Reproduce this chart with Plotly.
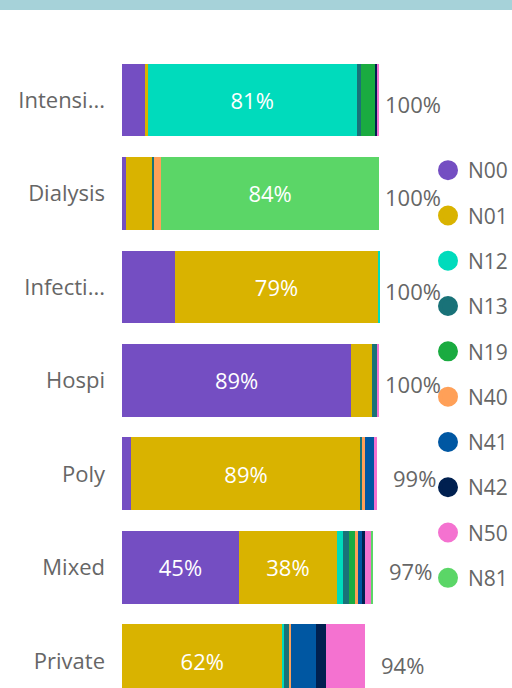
import numpy as np
import plotly.graph_objects as go

categories = ["Intensi...", "Dialysis", "Infecti...", "Hospi", "Poly", "Mixed", "Private"]

series_names = ["N00", "N01", "N12", "N13", "N19", "N40", "N41", "N42", "N50", "N81"]
N00 = [9.0, 1.4, 20.5, 88.8, 3.5, 45.3, 0.0]
N01 = [1.0, 10.3, 78.8, 8.1, 89.1, 38.0, 62.2]
N12 = [80.9, 0.3, 0.4, 0.0, 0.0, 2.3, 0.4]
N13 = [1.6, 0.3, 0.0, 1.8, 0.6, 2.3, 2.4]
N19 = [5.9, 0.0, 0.0, 0.0, 0.0, 2.3, 0.0]
N40 = [0.0, 2.9, 0.0, 0.0, 0.8, 1.2, 0.5]
N41 = [0.0, 0.0, 0.0, 0.0, 3.6, 1.6, 9.8]
N42 = [0.4, 0.0, 0.0, 0.0, 0.0, 1.2, 3.9]
N50 = [0.9, 0.0, 0.0, 1.0, 1.4, 2.3, 14.8]
N81 = [0.0, 84.4, 0.0, 0.0, 0.0, 0.8, 0.0]
series_values = [N00, N01, N12, N13, N19, N40, N41, N42, N50, N81]

colors = ["#744EC2", "#D9B300", "#00DBBC", "#197278", "#1AAB40",
          "#FFA058", "#0057A2", "#002050", "#F472D0", "#5BD667"]

FONT = "Segoe UI, Open Sans, sans-serif"
GREY = "#666666"
LABEL_MIN = 30  # only label segments that are large enough

fig = go.Figure()
for name, vals, col in zip(series_names, series_values, colors):
    txt = [f"{v:.0f}%" if v >= LABEL_MIN else "" for v in vals]
    fig.add_trace(go.Bar(
        name=name, y=categories, x=vals, orientation="h",
        marker=dict(color=col, line=dict(width=0)),
        text=txt, textposition="inside", insidetextanchor="middle",
        textfont=dict(color="white", size=22, family=FONT),
        showlegend=False, hoverinfo="skip",
    ))
    # circle legend entries
    fig.add_trace(go.Scatter(
        name=name, x=[None], y=[None], mode="markers",
        marker=dict(symbol="circle", size=16, color=col, line=dict(color=col, width=4)),
        legendgroup=name, showlegend=True, hoverinfo="skip",
    ))

totals = np.sum(np.array(series_values), axis=0)

# plot geometry (pixels) for label clamping
L, R, W, H, T = 122, 132, 512, 688, 40
plot_w = W - L - R
plot_h = H - T
limit_px = 440
for cat, tot in zip(categories, totals):
    label = f"{round(tot)}%"
    end_px = L + tot / 100 * plot_w
    w = 14.2 * len(label)
    shift = min(14, limit_px - end_px - w)
    fig.add_annotation(x=tot, y=cat, text=label, showarrow=False,
                       xanchor="left", yanchor="middle", xshift=shift, yshift=-4,
                       font=dict(size=22, color=GREY, family=FONT))

fig.update_layout(
    width=W, height=H,
    margin=dict(l=L, r=R, t=T, b=0),
    barmode="stack", bargap=0.22,
    plot_bgcolor="white", paper_bgcolor="white",
    font=dict(family=FONT, size=22, color=GREY),
    showlegend=True,
    legend=dict(
        xref="container", yref="container",
        x=428 / W, y=1 - 150 / H, xanchor="left", yanchor="top",
        font=dict(size=21, color=GREY, family=FONT),
        tracegroupgap=15, itemsizing="trace", bgcolor="rgba(0,0,0,0)",
        maxheight=1,
    ),
    xaxis=dict(range=[0, 100], visible=False, fixedrange=True),
    yaxis=dict(type="category", categoryorder="array", categoryarray=categories,
               range=[6.29, -0.642], autorange=False, showgrid=False, zeroline=False,
               showline=False, ticks="", ticklabelstandoff=16,
               tickfont=dict(size=22, color=GREY, family=FONT), fixedrange=True),
    shapes=[dict(type="rect", xref="paper", yref="paper", x0=-1, x1=2,
                 y0=(H - 10) / plot_h, y1=(H + 2) / plot_h,
                 fillcolor="#A6D2D9", line=dict(width=0), layer="above")],
)

fig.write_html("out.html", config={"displayModeBar": False},
               post_script="document.body.style.margin='0';")
